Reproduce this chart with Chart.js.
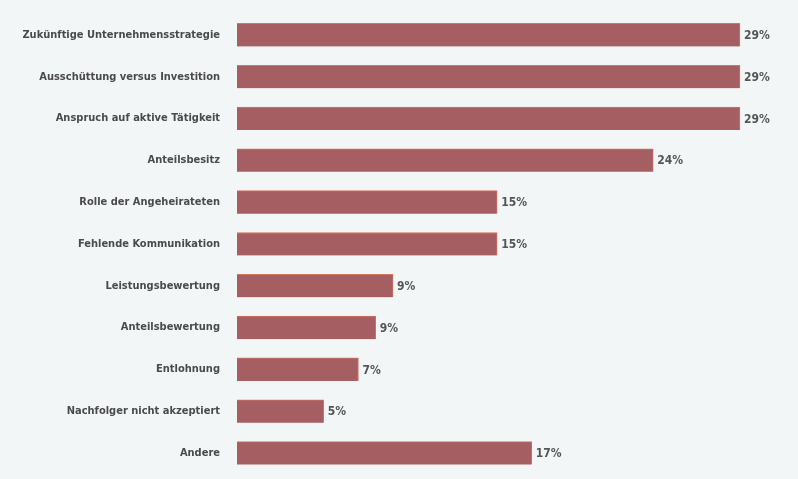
<!DOCTYPE html>
<html>
<head>
<meta charset="utf-8">
<script src="https://cdn.jsdelivr.net/npm/chart.js@4/dist/chart.umd.min.js"></script>
<style>
  html, body { margin: 0; padding: 0; background: #f3f6f7; }
  #wrap { width: 798px; height: 479px; position: relative; }
</style>
</head>
<body>
<div id="wrap"><canvas id="c" width="798" height="479"></canvas></div>
<script>
const categories = [
  "Zukünftige Unternehmensstrategie",
  "Ausschüttung versus Investition",
  "Anspruch auf aktive Tätigkeit",
  "Anteilsbesitz",
  "Rolle der Angeheirateten",
  "Fehlende Kommunikation",
  "Leistungsbewertung",
  "Anteilsbewertung",
  "Entlohnung",
  "Nachfolger nicht akzeptiert",
  "Andere"
];
// bar lengths as drawn
const values = [29, 29, 29, 24, 15, 15, 9, 8, 7, 5, 17];
// printed value labels
const valueLabels = ["29%", "29%", "29%", "24%", "15%", "15%", "9%", "9%", "7%", "5%", "17%"];

const FONT = "'DejaVu Sans Condensed', sans-serif";

const valueLabelPlugin = {
  id: 'valueLabels',
  afterDatasetsDraw(chart) {
    const ctx = chart.ctx;
    const meta = chart.getDatasetMeta(0);
    ctx.save();
    ctx.font = "bold 12px " + FONT;
    ctx.fillStyle = "#555555";
    ctx.textAlign = "left";
    ctx.textBaseline = "middle";
    meta.data.forEach((bar, i) => {
      ctx.fillText(valueLabels[i], bar.x + 4, bar.y + 1);
    });
    ctx.restore();
  }
};

new Chart(document.getElementById('c'), {
  type: 'bar',
  data: {
    labels: categories,
    datasets: [{
      data: values,
      backgroundColor: '#a55e62',
      borderColor: '#d4735f',
      borderWidth: { top: 1, right: 1, bottom: 0, left: 0 },
      borderSkipped: false,
      barThickness: 23
    }]
  },
  options: {
    indexAxis: 'y',
    responsive: false,
    animation: false,
    layout: { padding: { top: 14, bottom: 5, left: 0, right: 6 } },
    plugins: {
      legend: { display: false },
      tooltip: { enabled: false }
    },
    scales: {
      x: {
        display: false,
        min: 0,
        max: 32,
        grid: { display: false },
        afterFit(scale) { scale.height = 0; scale.paddingLeft = 0; scale.paddingRight = 0; }
      },
      y: {
        grid: { display: false, drawTicks: false },
        border: { display: false },
        ticks: {
          color: '#4a4a4a',
          padding: 17,
          font: { family: FONT, size: 11, weight: 'bold' }
        },
        afterFit(scale) { scale.width = 237; scale.paddingTop = 0; scale.paddingBottom = 0; }
      }
    }
  },
  plugins: [valueLabelPlugin]
});
</script>
</body>
</html>
